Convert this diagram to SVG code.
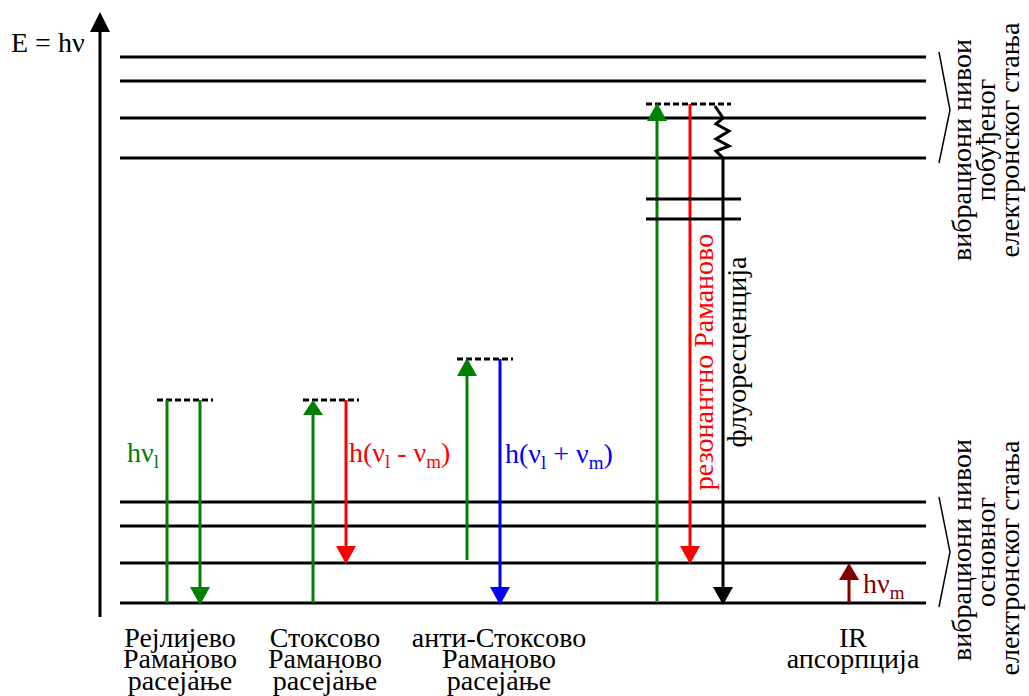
<svg xmlns="http://www.w3.org/2000/svg" width="1029" height="696" viewBox="0 0 1029 696">
<defs>
<style>
.lvl{stroke:#000;stroke-width:3;fill:none;}
.dash{stroke:#000;stroke-width:3;stroke-dasharray:6,3;fill:none;}
.g{stroke:#008000;stroke-width:3;fill:none;}
.r{stroke:#ff0000;stroke-width:3;fill:none;}
.b{stroke:#0000ff;stroke-width:3;fill:none;}
.k{stroke:#000;stroke-width:3;fill:none;}
.dr{stroke:#800000;stroke-width:3;fill:none;}
.t{font-family:"Liberation Serif",serif;font-size:28px;}
.mid{text-anchor:middle;}
.sub{font-size:19px;}
</style>
</defs>
<rect width="1029" height="696" fill="#fff"/>
<g id="axis">
<line x1="100" y1="617" x2="100" y2="28" stroke="#000" stroke-width="3"/>
<polygon points="100,12 90,32 110,32" fill="#000"/>
<text class="t" x="11" y="52">E = hν</text>
</g>
<g id="levels">
<line class="lvl" x1="120" y1="57" x2="926" y2="57"/>
<line class="lvl" x1="120" y1="81" x2="926" y2="81"/>
<line class="lvl" x1="120" y1="118" x2="926" y2="118"/>
<line class="lvl" x1="120" y1="158" x2="926" y2="158"/>
<line class="lvl" x1="120" y1="502" x2="926" y2="502"/>
<line class="lvl" x1="120" y1="526" x2="926" y2="526"/>
<line class="lvl" x1="120" y1="563" x2="926" y2="563"/>
<line class="lvl" x1="120" y1="603" x2="926" y2="603"/>
</g>
<g id="connectors">
<line class="dash" x1="157" y1="400" x2="213" y2="400"/>
<line class="g" x1="167" y1="603" x2="167" y2="400"/>
<line class="g" x1="200" y1="400" x2="200" y2="590"/>
<polygon points="200,605 190,587 210,587" fill="#008000"/>
<line class="dash" x1="303" y1="400" x2="359" y2="400"/>
<line class="g" x1="313" y1="603" x2="313" y2="412"/>
<polygon points="313,400 303,415 323,415" fill="#008000"/>
<line class="r" x1="346" y1="400" x2="346" y2="550"/>
<polygon points="346,564 336,546 356,546" fill="#ff0000"/>
<line class="dash" x1="457" y1="359" x2="513" y2="359"/>
<line class="g" x1="467" y1="560" x2="467" y2="370"/>
<polygon points="467,358 457,376 477,376" fill="#008000"/>
<line class="b" x1="500" y1="359" x2="500" y2="590"/>
<polygon points="500,605 490,587 510,587" fill="#0000ff"/>
<line class="dash" x1="646" y1="104" x2="731" y2="104"/>
<line class="g" x1="657" y1="601" x2="657" y2="115"/>
<polygon points="657,103 647,121 667,121" fill="#008000"/>
<line class="r" x1="690" y1="104" x2="690" y2="550"/>
<polygon points="690,564 680,546 700,546" fill="#ff0000"/>
<polyline class="k" stroke-width="2.5" points="715,106 723,118 716,124 729,131 716,139 729,146 716,151 723,158"/>
<line class="k" x1="723" y1="158" x2="723" y2="590"/>
<polygon points="723,605 713,587 733,587" fill="#000"/>
<line class="lvl" x1="646" y1="199" x2="741" y2="199"/>
<line class="lvl" x1="646" y1="219" x2="741" y2="219"/>
<line class="dr" x1="849" y1="603" x2="849" y2="575"/>
<polygon points="849,563 839,580 859,580" fill="#800000"/>
<polyline fill="none" stroke="#000" stroke-width="1.5" points="939,52 950,110 939,163"/>
<polyline fill="none" stroke="#000" stroke-width="1.5" points="939,497 950,552 939,607"/>
</g>
<g id="labels">
<text class="t" x="127" y="462" fill="#008000">hν<tspan class="sub" dy="6">l</tspan></text>
<text class="t" x="349" y="462" fill="#ff0000">h(ν<tspan class="sub" dy="6">l</tspan><tspan dy="-6"> - ν</tspan><tspan class="sub" dy="6">m</tspan><tspan dy="-6">)</tspan></text>
<text class="t" x="505" y="463" fill="#0000ff">h(ν<tspan class="sub" dy="6">l</tspan><tspan dy="-6"> + ν</tspan><tspan class="sub" dy="6">m</tspan><tspan dy="-6">)</tspan></text>
<text class="t" x="863" y="593" fill="#800000">hν<tspan class="sub" dy="6">m</tspan></text>
<text class="t mid" transform="translate(713,362) rotate(-90)" fill="#ff0000">резонантно Раманово</text>
<text class="t mid" transform="translate(746,352) rotate(-90)">флуоресценција</text>
</g>
<g id="excited-label">
<text class="t mid" transform="translate(971,150) rotate(-90)">вибрациони нивои</text>
<text class="t mid" transform="translate(995,140) rotate(-90)">побуђеног</text>
<text class="t mid" transform="translate(1019,140) rotate(-90)">електронског стања</text>
</g>
<g id="ground-label">
<text class="t mid" transform="translate(971,550) rotate(-90)">вибрациони нивои</text>
<text class="t mid" transform="translate(995,552) rotate(-90)">основног</text>
<text class="t mid" transform="translate(1019,558) rotate(-90)">електронског стања</text>
</g>
<g id="rayleigh-label">
<text class="t mid" x="180" y="647">Рејлијево</text>
<text class="t mid" x="180" y="668">Раман̣ово</text>
<text class="t mid" x="180" y="690">расејање</text>
</g>
<g id="stokes-label">
<text class="t mid" x="325" y="647">Стоксово</text>
<text class="t mid" x="325" y="668">Раман̣ово</text>
<text class="t mid" x="325" y="690">расејање</text>
</g>
<g id="antistokes-label">
<text class="t mid" x="499" y="647">анти-Стоксово</text>
<text class="t mid" x="499" y="668">Раман̣ово</text>
<text class="t mid" x="499" y="690">расејање</text>
</g>
<g id="ir-label">
<text class="t mid" x="853" y="647">IR</text>
<text class="t mid" x="853" y="668">апсорпција</text>
</g>
</svg>
